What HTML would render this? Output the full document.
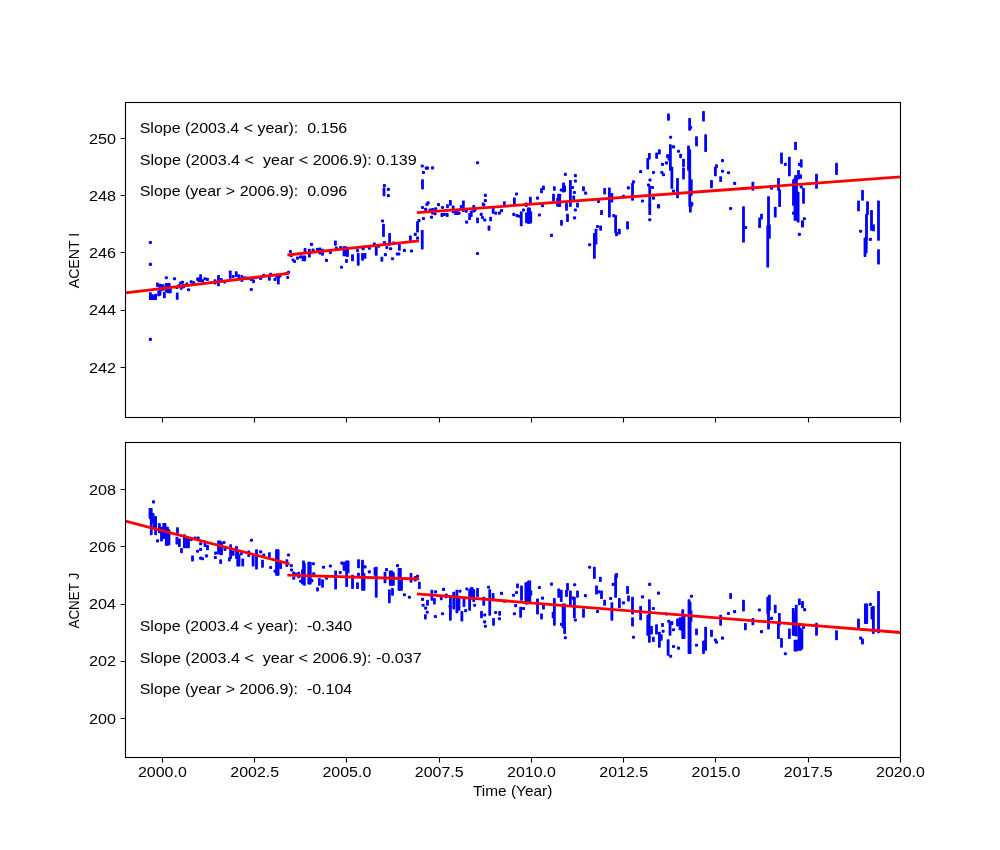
<!DOCTYPE html><html><head><meta charset="utf-8"><style>html,body{margin:0;padding:0;background:#fff}body{width:1000px;height:850px;position:relative;overflow:hidden}</style></head><body><svg width="1000" height="850" viewBox="0 0 1000 850" style="position:absolute;left:0;top:0;will-change:transform"><rect width="1000" height="850" fill="#fff"/><g fill="#0000ff"><rect x="148.83" y="240.95" width="3.1" height="3.1" rx="1"/><rect x="148.83" y="262.83" width="3.1" height="3.1" rx="1"/><rect x="164.83" y="276.20" width="3.1" height="3.1" rx="1"/><rect x="172.95" y="277.20" width="3.1" height="3.1" rx="1"/><rect x="148.98" y="292.13" width="2.8" height="7.99" rx="0.7"/><rect x="151.10" y="294.25" width="2.8" height="5.87" rx="0.7"/><rect x="154.22" y="293.63" width="2.8" height="6.49" rx="0.7"/><rect x="152.60" y="295.50" width="2.8" height="4.62" rx="0.7"/><rect x="157.35" y="290.50" width="2.8" height="5.87" rx="0.7"/><rect x="158.60" y="291.13" width="2.8" height="4.62" rx="0.7"/><rect x="156.10" y="282.38" width="2.8" height="4.62" rx="0.7"/><rect x="158.60" y="283.63" width="2.8" height="8.37" rx="0.7"/><rect x="160.10" y="284.25" width="2.8" height="6.50" rx="0.7"/><rect x="161.72" y="284.25" width="2.8" height="6.50" rx="0.7"/><rect x="162.98" y="291.75" width="2.8" height="6.50" rx="0.7"/><rect x="164.85" y="283.00" width="2.8" height="9.00" rx="0.7"/><rect x="166.35" y="283.00" width="2.8" height="10.25" rx="0.7"/><rect x="167.85" y="283.00" width="2.8" height="10.25" rx="0.7"/><rect x="168.98" y="288.63" width="2.8" height="4.62" rx="0.7"/><rect x="148.83" y="337.85" width="3.1" height="3.1" rx="1"/><rect x="175.85" y="292.38" width="2.8" height="7.49" rx="0.7"/><rect x="175.33" y="285.95" width="3.1" height="3.1" rx="1"/><rect x="179.07" y="281.57" width="3.1" height="3.1" rx="1"/><rect x="180.95" y="280.70" width="3.1" height="3.1" rx="1"/><rect x="197.35" y="277.38" width="2.8" height="4.62" rx="0.7"/><rect x="177.20" y="284.33" width="3.1" height="3.1" rx="1"/><rect x="179.70" y="286.57" width="3.1" height="3.1" rx="1"/><rect x="182.35" y="283.63" width="2.8" height="4.62" rx="0.7"/><rect x="185.48" y="282.38" width="2.8" height="4.62" rx="0.7"/><rect x="186.95" y="288.20" width="3.1" height="3.1" rx="1"/><rect x="189.70" y="280.33" width="3.1" height="3.1" rx="1"/><rect x="192.20" y="281.20" width="3.1" height="3.1" rx="1"/><rect x="196.10" y="277.38" width="2.8" height="3.37" rx="0.7"/><rect x="199.22" y="274.25" width="2.8" height="7.75" rx="0.7"/><rect x="200.95" y="279.33" width="3.1" height="3.1" rx="1"/><rect x="203.45" y="277.20" width="3.1" height="3.1" rx="1"/><rect x="206.10" y="277.83" width="2.8" height="3.10" rx="0.7"/><rect x="213.60" y="279.25" width="2.8" height="5.25" rx="0.7"/><rect x="217.10" y="274.88" width="2.8" height="11.49" rx="0.7"/><rect x="219.85" y="278.00" width="2.8" height="4.00" rx="0.7"/><rect x="223.20" y="280.33" width="3.1" height="3.1" rx="1"/><rect x="228.85" y="270.50" width="2.8" height="8.37" rx="0.7"/><rect x="231.57" y="274.95" width="3.1" height="3.1" rx="1"/><rect x="234.85" y="271.13" width="2.8" height="5.87" rx="0.7"/><rect x="237.35" y="274.25" width="2.8" height="4.00" rx="0.7"/><rect x="240.48" y="274.88" width="2.8" height="7.12" rx="0.7"/><rect x="243.45" y="276.20" width="3.1" height="3.1" rx="1"/><rect x="246.20" y="276.83" width="3.1" height="3.1" rx="1"/><rect x="249.70" y="277.83" width="3.1" height="3.1" rx="1"/><rect x="252.10" y="279.25" width="2.8" height="4.00" rx="0.7"/><rect x="254.70" y="275.95" width="3.1" height="3.1" rx="1"/><rect x="259.07" y="276.83" width="3.1" height="3.1" rx="1"/><rect x="262.20" y="273.70" width="3.1" height="3.1" rx="1"/><rect x="249.70" y="287.95" width="3.1" height="3.1" rx="1"/><rect x="267.98" y="276.75" width="2.8" height="4.00" rx="0.7"/><rect x="273.45" y="277.83" width="3.1" height="3.1" rx="1"/><rect x="276.98" y="276.13" width="2.8" height="8.37" rx="0.7"/><rect x="275.33" y="274.95" width="3.1" height="3.1" rx="1"/><rect x="278.45" y="274.45" width="3.1" height="3.1" rx="1"/><rect x="286.20" y="275.95" width="3.1" height="3.1" rx="1"/><rect x="286.95" y="270.70" width="3.1" height="3.1" rx="1"/><rect x="284.07" y="272.20" width="3.1" height="3.1" rx="1"/><rect x="269.07" y="272.70" width="3.1" height="3.1" rx="1"/><rect x="288.83" y="249.95" width="3.1" height="3.1" rx="1"/><rect x="289.70" y="254.07" width="3.1" height="3.1" rx="1"/><rect x="291.57" y="258.45" width="3.1" height="3.1" rx="1"/><rect x="293.07" y="259.95" width="3.1" height="3.1" rx="1"/><rect x="295.95" y="256.57" width="3.1" height="3.1" rx="1"/><rect x="299.07" y="255.33" width="3.1" height="3.1" rx="1"/><rect x="301.72" y="255.50" width="2.8" height="5.87" rx="0.7"/><rect x="303.35" y="255.50" width="2.8" height="5.87" rx="0.7"/><rect x="303.60" y="248.00" width="2.8" height="5.25" rx="0.7"/><rect x="307.98" y="248.63" width="2.8" height="8.99" rx="0.7"/><rect x="309.95" y="242.83" width="3.1" height="3.1" rx="1"/><rect x="311.57" y="248.45" width="3.1" height="3.1" rx="1"/><rect x="315.95" y="247.83" width="3.1" height="3.1" rx="1"/><rect x="318.60" y="247.38" width="2.8" height="7.12" rx="0.7"/><rect x="321.10" y="248.63" width="2.8" height="7.12" rx="0.7"/><rect x="324.95" y="258.83" width="3.1" height="3.1" rx="1"/><rect x="328.83" y="250.95" width="3.1" height="3.1" rx="1"/><rect x="333.98" y="240.50" width="2.8" height="5.25" rx="0.7"/><rect x="334.70" y="246.57" width="3.1" height="3.1" rx="1"/><rect x="339.07" y="245.95" width="3.1" height="3.1" rx="1"/><rect x="342.60" y="246.13" width="2.8" height="10.24" rx="0.7"/><rect x="344.48" y="246.13" width="2.8" height="10.24" rx="0.7"/><rect x="346.10" y="249.25" width="2.8" height="7.75" rx="0.7"/><rect x="345.10" y="259.00" width="2.8" height="4.00" rx="0.7"/><rect x="339.95" y="265.70" width="3.1" height="3.1" rx="1"/><rect x="351.10" y="254.25" width="2.8" height="7.12" rx="0.7"/><rect x="356.10" y="249.07" width="2.8" height="3.10" rx="0.7"/><rect x="356.85" y="253.00" width="2.8" height="12.75" rx="0.7"/><rect x="361.10" y="253.00" width="2.8" height="7.75" rx="0.7"/><rect x="363.60" y="253.00" width="2.8" height="5.87" rx="0.7"/><rect x="361.57" y="247.20" width="3.1" height="3.1" rx="1"/><rect x="367.83" y="246.57" width="3.1" height="3.1" rx="1"/><rect x="372.83" y="242.45" width="3.1" height="3.1" rx="1"/><rect x="374.85" y="246.75" width="2.8" height="9.00" rx="0.7"/><rect x="377.20" y="244.70" width="3.1" height="3.1" rx="1"/><rect x="380.95" y="219.45" width="3.1" height="3.1" rx="1"/><rect x="382.10" y="223.63" width="2.8" height="13.37" rx="0.7"/><rect x="382.83" y="184.07" width="3.1" height="3.1" rx="1"/><rect x="382.60" y="187.38" width="2.8" height="8.99" rx="0.7"/><rect x="386.83" y="187.83" width="3.1" height="3.1" rx="1"/><rect x="386.83" y="194.07" width="3.1" height="3.1" rx="1"/><rect x="388.22" y="233.00" width="2.8" height="12.75" rx="0.7"/><rect x="382.83" y="240.95" width="3.1" height="3.1" rx="1"/><rect x="385.33" y="245.95" width="3.1" height="3.1" rx="1"/><rect x="389.07" y="247.20" width="3.1" height="3.1" rx="1"/><rect x="392.20" y="241.57" width="3.1" height="3.1" rx="1"/><rect x="397.98" y="243.63" width="2.8" height="7.12" rx="0.7"/><rect x="395.70" y="252.45" width="3.1" height="3.1" rx="1"/><rect x="397.20" y="252.45" width="3.1" height="3.1" rx="1"/><rect x="402.83" y="248.83" width="3.1" height="3.1" rx="1"/><rect x="409.95" y="249.45" width="3.1" height="3.1" rx="1"/><rect x="408.98" y="235.50" width="2.8" height="6.50" rx="0.7"/><rect x="413.70" y="232.83" width="3.1" height="3.1" rx="1"/><rect x="415.95" y="236.57" width="3.1" height="3.1" rx="1"/><rect x="416.10" y="221.13" width="2.8" height="11.49" rx="0.7"/><rect x="417.45" y="219.07" width="3.1" height="3.1" rx="1"/><rect x="380.48" y="256.75" width="2.8" height="5.00" rx="0.7"/><rect x="383.83" y="253.07" width="3.1" height="3.1" rx="1"/><rect x="390.95" y="257.20" width="3.1" height="3.1" rx="1"/><rect x="420.85" y="229.88" width="2.8" height="19.62" rx="0.7"/><rect x="421.95" y="216.95" width="3.1" height="3.1" rx="1"/><rect x="429.95" y="215.70" width="3.1" height="3.1" rx="1"/><rect x="420.70" y="164.45" width="3.1" height="3.1" rx="1"/><rect x="424.70" y="166.57" width="3.1" height="3.1" rx="1"/><rect x="425.95" y="166.57" width="3.1" height="3.1" rx="1"/><rect x="430.95" y="166.33" width="3.1" height="3.1" rx="1"/><rect x="421.95" y="170.95" width="3.1" height="3.1" rx="1"/><rect x="421.10" y="179.25" width="2.8" height="10.25" rx="0.7"/><rect x="420.95" y="205.95" width="3.1" height="3.1" rx="1"/><rect x="424.07" y="207.83" width="3.1" height="3.1" rx="1"/><rect x="426.57" y="201.33" width="3.1" height="3.1" rx="1"/><rect x="425.33" y="202.83" width="3.1" height="3.1" rx="1"/><rect x="428.45" y="208.45" width="3.1" height="3.1" rx="1"/><rect x="431.10" y="208.00" width="2.8" height="6.50" rx="0.7"/><rect x="433.45" y="212.20" width="3.1" height="3.1" rx="1"/><rect x="434.07" y="207.20" width="3.1" height="3.1" rx="1"/><rect x="436.95" y="203.07" width="3.1" height="3.1" rx="1"/><rect x="440.95" y="205.95" width="3.1" height="3.1" rx="1"/><rect x="440.48" y="213.00" width="2.8" height="4.00" rx="0.7"/><rect x="442.83" y="212.83" width="3.1" height="3.1" rx="1"/><rect x="446.10" y="204.25" width="2.8" height="4.00" rx="0.7"/><rect x="445.85" y="213.00" width="2.8" height="4.00" rx="0.7"/><rect x="448.98" y="199.88" width="2.8" height="5.87" rx="0.7"/><rect x="451.72" y="205.50" width="2.8" height="7.75" rx="0.7"/><rect x="454.22" y="209.25" width="2.8" height="5.87" rx="0.7"/><rect x="456.10" y="211.13" width="2.8" height="3.99" rx="0.7"/><rect x="457.45" y="211.57" width="3.1" height="3.1" rx="1"/><rect x="459.85" y="204.88" width="2.8" height="5.87" rx="0.7"/><rect x="461.98" y="200.50" width="2.8" height="11.50" rx="0.7"/><rect x="464.70" y="209.70" width="3.1" height="3.1" rx="1"/><rect x="465.07" y="220.57" width="3.1" height="3.1" rx="1"/><rect x="468.22" y="213.00" width="2.8" height="7.12" rx="0.7"/><rect x="469.85" y="210.50" width="2.8" height="6.50" rx="0.7"/><rect x="472.35" y="204.88" width="2.8" height="7.74" rx="0.7"/><rect x="473.45" y="208.45" width="3.1" height="3.1" rx="1"/><rect x="476.10" y="217.38" width="2.8" height="5.87" rx="0.7"/><rect x="479.70" y="212.83" width="3.1" height="3.1" rx="1"/><rect x="481.72" y="202.38" width="2.8" height="3.37" rx="0.7"/><rect x="483.20" y="218.45" width="3.1" height="3.1" rx="1"/><rect x="483.83" y="193.83" width="3.1" height="3.1" rx="1"/><rect x="483.83" y="199.07" width="3.1" height="3.1" rx="1"/><rect x="482.20" y="203.45" width="3.1" height="3.1" rx="1"/><rect x="487.60" y="225.50" width="2.8" height="5.25" rx="0.7"/><rect x="489.22" y="216.75" width="2.8" height="4.62" rx="0.7"/><rect x="491.72" y="206.75" width="2.8" height="7.12" rx="0.7"/><rect x="494.07" y="211.57" width="3.1" height="3.1" rx="1"/><rect x="497.83" y="211.57" width="3.1" height="3.1" rx="1"/><rect x="480.95" y="215.95" width="3.1" height="3.1" rx="1"/><rect x="475.95" y="161.20" width="3.1" height="3.1" rx="1"/><rect x="475.95" y="251.95" width="3.1" height="3.1" rx="1"/><rect x="499.95" y="209.07" width="3.1" height="3.1" rx="1"/><rect x="502.98" y="201.13" width="2.8" height="3.99" rx="0.7"/><rect x="512.98" y="197.38" width="2.8" height="7.12" rx="0.7"/><rect x="514.95" y="192.45" width="3.1" height="3.1" rx="1"/><rect x="512.20" y="212.83" width="3.1" height="3.1" rx="1"/><rect x="515.48" y="214.07" width="2.8" height="3.10" rx="0.7"/><rect x="517.83" y="214.70" width="3.1" height="3.1" rx="1"/><rect x="519.85" y="211.13" width="2.8" height="15.24" rx="0.7"/><rect x="521.95" y="208.45" width="3.1" height="3.1" rx="1"/><rect x="524.85" y="202.38" width="2.8" height="4.62" rx="0.7"/><rect x="525.10" y="212.38" width="2.8" height="10.87" rx="0.7"/><rect x="526.85" y="207.38" width="2.8" height="16.49" rx="0.7"/><rect x="528.10" y="207.38" width="2.8" height="16.49" rx="0.7"/><rect x="528.98" y="196.75" width="2.8" height="6.50" rx="0.7"/><rect x="529.35" y="211.13" width="2.8" height="12.12" rx="0.7"/><rect x="535.95" y="196.57" width="3.1" height="3.1" rx="1"/><rect x="537.83" y="213.45" width="3.1" height="3.1" rx="1"/><rect x="540.10" y="188.00" width="2.8" height="5.25" rx="0.7"/><rect x="542.10" y="185.50" width="2.8" height="4.62" rx="0.7"/><rect x="540.95" y="204.07" width="3.1" height="3.1" rx="1"/><rect x="549.95" y="233.83" width="3.1" height="3.1" rx="1"/><rect x="552.10" y="193.63" width="2.8" height="7.74" rx="0.7"/><rect x="552.98" y="186.13" width="2.8" height="4.62" rx="0.7"/><rect x="557.10" y="193.63" width="2.8" height="13.37" rx="0.7"/><rect x="558.35" y="193.63" width="2.8" height="13.37" rx="0.7"/><rect x="556.10" y="198.00" width="2.8" height="8.37" rx="0.7"/><rect x="560.10" y="219.88" width="2.8" height="5.87" rx="0.7"/><rect x="559.70" y="188.45" width="3.1" height="3.1" rx="1"/><rect x="562.10" y="182.38" width="2.8" height="10.24" rx="0.7"/><rect x="563.22" y="185.50" width="2.8" height="6.50" rx="0.7"/><rect x="563.83" y="172.83" width="3.1" height="3.1" rx="1"/><rect x="565.10" y="203.00" width="2.8" height="7.75" rx="0.7"/><rect x="566.10" y="213.63" width="2.8" height="8.37" rx="0.7"/><rect x="568.98" y="179.88" width="2.8" height="27.12" rx="0.7"/><rect x="570.95" y="185.95" width="3.1" height="3.1" rx="1"/><rect x="572.35" y="195.50" width="2.8" height="5.25" rx="0.7"/><rect x="572.83" y="190.95" width="3.1" height="3.1" rx="1"/><rect x="573.83" y="174.07" width="3.1" height="3.1" rx="1"/><rect x="573.83" y="179.45" width="3.1" height="3.1" rx="1"/><rect x="573.83" y="208.45" width="3.1" height="3.1" rx="1"/><rect x="572.95" y="216.33" width="3.1" height="3.1" rx="1"/><rect x="576.10" y="202.38" width="2.8" height="5.24" rx="0.7"/><rect x="582.10" y="186.13" width="2.8" height="5.24" rx="0.7"/><rect x="584.07" y="191.57" width="3.1" height="3.1" rx="1"/><rect x="588.07" y="243.20" width="3.1" height="3.1" rx="1"/><rect x="592.98" y="233.00" width="2.8" height="25.87" rx="0.7"/><rect x="594.60" y="228.63" width="2.8" height="15.87" rx="0.7"/><rect x="595.95" y="224.95" width="3.1" height="3.1" rx="1"/><rect x="599.22" y="225.50" width="2.8" height="5.25" rx="0.7"/><rect x="596.95" y="199.95" width="3.1" height="3.1" rx="1"/><rect x="600.10" y="209.88" width="2.8" height="5.24" rx="0.7"/><rect x="603.22" y="188.00" width="2.8" height="6.50" rx="0.7"/><rect x="607.98" y="187.38" width="2.8" height="30.24" rx="0.7"/><rect x="610.48" y="193.00" width="2.8" height="9.62" rx="0.7"/><rect x="612.20" y="214.07" width="3.1" height="3.1" rx="1"/><rect x="614.22" y="214.88" width="2.8" height="18.37" rx="0.7"/><rect x="615.10" y="231.75" width="2.8" height="4.62" rx="0.7"/><rect x="617.98" y="228.63" width="2.8" height="5.87" rx="0.7"/><rect x="667.10" y="113.62" width="2.8" height="7.13" rx="0.7"/><rect x="702.10" y="111.12" width="2.8" height="10.26" rx="0.7"/><rect x="688.22" y="118.00" width="2.8" height="12.75" rx="0.7"/><rect x="689.07" y="125.95" width="3.1" height="3.1" rx="1"/><rect x="669.07" y="135.70" width="3.1" height="3.1" rx="1"/><rect x="695.10" y="136.13" width="2.8" height="10.24" rx="0.7"/><rect x="704.22" y="134.25" width="2.8" height="17.75" rx="0.7"/><rect x="668.98" y="144.25" width="2.8" height="26.50" rx="0.7"/><rect x="670.48" y="166.75" width="2.8" height="22.12" rx="0.7"/><rect x="671.95" y="145.33" width="3.1" height="3.1" rx="1"/><rect x="676.95" y="149.70" width="3.1" height="3.1" rx="1"/><rect x="679.22" y="153.63" width="2.8" height="4.62" rx="0.7"/><rect x="682.10" y="158.63" width="2.8" height="8.37" rx="0.7"/><rect x="682.10" y="167.38" width="2.8" height="12.12" rx="0.7"/><rect x="687.10" y="145.50" width="2.8" height="25.25" rx="0.7"/><rect x="688.35" y="149.25" width="2.8" height="57.50" rx="0.7"/><rect x="689.85" y="179.25" width="2.8" height="16.50" rx="0.7"/><rect x="690.10" y="201.75" width="2.8" height="5.00" rx="0.7"/><rect x="666.10" y="154.25" width="2.8" height="4.00" rx="0.7"/><rect x="667.72" y="154.25" width="2.8" height="6.50" rx="0.7"/><rect x="657.98" y="149.25" width="2.8" height="5.25" rx="0.7"/><rect x="655.22" y="152.38" width="2.8" height="6.49" rx="0.7"/><rect x="647.98" y="153.00" width="2.8" height="6.50" rx="0.7"/><rect x="646.35" y="158.00" width="2.8" height="11.50" rx="0.7"/><rect x="660.95" y="162.83" width="3.1" height="3.1" rx="1"/><rect x="664.95" y="161.33" width="3.1" height="3.1" rx="1"/><rect x="660.33" y="170.95" width="3.1" height="3.1" rx="1"/><rect x="661.95" y="173.20" width="3.1" height="3.1" rx="1"/><rect x="651.95" y="170.95" width="3.1" height="3.1" rx="1"/><rect x="639.07" y="170.07" width="3.1" height="3.1" rx="1"/><rect x="648.45" y="178.45" width="3.1" height="3.1" rx="1"/><rect x="646.95" y="183.45" width="3.1" height="3.1" rx="1"/><rect x="648.35" y="185.50" width="2.8" height="21.25" rx="0.7"/><rect x="650.95" y="185.95" width="3.1" height="3.1" rx="1"/><rect x="651.95" y="196.57" width="3.1" height="3.1" rx="1"/><rect x="640.95" y="199.45" width="3.1" height="3.1" rx="1"/><rect x="656.95" y="204.07" width="3.1" height="3.1" rx="1"/><rect x="631.95" y="180.33" width="3.1" height="3.1" rx="1"/><rect x="631.10" y="183.00" width="2.8" height="17.75" rx="0.7"/><rect x="626.83" y="186.33" width="3.1" height="3.1" rx="1"/><rect x="621.95" y="194.70" width="3.1" height="3.1" rx="1"/><rect x="671.95" y="189.45" width="3.1" height="3.1" rx="1"/><rect x="676.10" y="178.00" width="2.8" height="20.25" rx="0.7"/><rect x="710.10" y="179.88" width="2.8" height="8.37" rx="0.7"/><rect x="715.10" y="164.25" width="2.8" height="4.00" rx="0.7"/><rect x="713.98" y="166.75" width="2.8" height="9.62" rx="0.7"/><rect x="719.22" y="176.13" width="2.8" height="5.87" rx="0.7"/><rect x="720.95" y="159.07" width="3.1" height="3.1" rx="1"/><rect x="720.95" y="169.70" width="3.1" height="3.1" rx="1"/><rect x="726.95" y="171.20" width="3.1" height="3.1" rx="1"/><rect x="733.07" y="181.83" width="3.1" height="3.1" rx="1"/><rect x="648.35" y="204.25" width="2.8" height="10.87" rx="0.7"/><rect x="648.20" y="218.20" width="3.1" height="3.1" rx="1"/><rect x="656.95" y="205.33" width="3.1" height="3.1" rx="1"/><rect x="688.98" y="204.25" width="2.8" height="8.37" rx="0.7"/><rect x="690.33" y="202.45" width="3.1" height="3.1" rx="1"/><rect x="729.07" y="206.95" width="3.1" height="3.1" rx="1"/><rect x="626.10" y="221.13" width="2.8" height="8.37" rx="0.7"/><rect x="751.48" y="181.75" width="2.8" height="9.00" rx="0.7"/><rect x="742.10" y="206.13" width="2.8" height="20.62" rx="0.7"/><rect x="769.95" y="186.57" width="3.1" height="3.1" rx="1"/><rect x="758.22" y="217.38" width="2.8" height="9.37" rx="0.7"/><rect x="760.10" y="213.63" width="2.8" height="5.87" rx="0.7"/><rect x="767.10" y="196.13" width="2.8" height="30.62" rx="0.7"/><rect x="773.85" y="206.75" width="2.8" height="10.87" rx="0.7"/><rect x="777.10" y="178.00" width="2.8" height="12.75" rx="0.7"/><rect x="778.22" y="189.25" width="2.8" height="17.75" rx="0.7"/><rect x="780.10" y="152.38" width="2.8" height="11.49" rx="0.7"/><rect x="783.83" y="162.83" width="3.1" height="3.1" rx="1"/><rect x="787.98" y="156.75" width="2.8" height="19.62" rx="0.7"/><rect x="794.10" y="141.75" width="2.8" height="8.37" rx="0.7"/><rect x="799.85" y="159.25" width="2.8" height="8.37" rx="0.7"/><rect x="797.83" y="162.83" width="3.1" height="3.1" rx="1"/><rect x="797.10" y="169.88" width="2.8" height="9.62" rx="0.7"/><rect x="799.22" y="174.25" width="2.8" height="4.62" rx="0.7"/><rect x="794.22" y="174.88" width="2.8" height="4.62" rx="0.7"/><rect x="792.10" y="179.25" width="2.8" height="26.50" rx="0.7"/><rect x="793.60" y="178.00" width="2.8" height="42.75" rx="0.7"/><rect x="795.10" y="178.00" width="2.8" height="42.75" rx="0.7"/><rect x="796.72" y="191.75" width="2.8" height="30.87" rx="0.7"/><rect x="791.95" y="211.57" width="3.1" height="3.1" rx="1"/><rect x="802.10" y="188.00" width="2.8" height="15.87" rx="0.7"/><rect x="799.70" y="185.33" width="3.1" height="3.1" rx="1"/><rect x="802.83" y="217.20" width="3.1" height="3.1" rx="1"/><rect x="801.10" y="220.50" width="2.8" height="6.25" rx="0.7"/><rect x="815.10" y="173.63" width="2.8" height="15.24" rx="0.7"/><rect x="835.10" y="162.75" width="2.8" height="12.37" rx="0.7"/><rect x="857.10" y="200.50" width="2.8" height="10.87" rx="0.7"/><rect x="742.10" y="225.25" width="2.8" height="17.37" rx="0.7"/><rect x="744.07" y="225.95" width="3.1" height="3.1" rx="1"/><rect x="758.22" y="224.89" width="2.8" height="3.10" rx="0.7"/><rect x="766.35" y="225.25" width="2.8" height="42.37" rx="0.7"/><rect x="767.98" y="224.25" width="2.8" height="14.62" rx="0.7"/><rect x="801.10" y="220.50" width="2.8" height="7.12" rx="0.7"/><rect x="797.83" y="232.83" width="3.1" height="3.1" rx="1"/><rect x="861.10" y="189.88" width="2.8" height="10.87" rx="0.7"/><rect x="866.10" y="201.13" width="2.8" height="13.99" rx="0.7"/><rect x="865.10" y="213.63" width="2.8" height="27.12" rx="0.7"/><rect x="863.60" y="237.38" width="2.8" height="19.62" rx="0.7"/><rect x="864.85" y="237.38" width="2.8" height="15.87" rx="0.7"/><rect x="870.10" y="209.88" width="2.8" height="20.87" rx="0.7"/><rect x="872.10" y="224.25" width="2.8" height="7.12" rx="0.7"/><rect x="877.10" y="200.50" width="2.8" height="40.25" rx="0.7"/><rect x="859.07" y="229.70" width="3.1" height="3.1" rx="1"/><rect x="868.83" y="237.83" width="3.1" height="3.1" rx="1"/><rect x="877.10" y="249.25" width="2.8" height="4.62" rx="0.7"/><rect x="877.10" y="253.00" width="2.8" height="11.50" rx="0.7"/></g><g fill="#0000ff"><rect x="151.95" y="500.33" width="3.1" height="3.1" rx="1"/><rect x="148.60" y="508.00" width="2.8" height="10.88" rx="0.7"/><rect x="149.85" y="508.00" width="2.8" height="27.13" rx="0.7"/><rect x="151.72" y="513.00" width="2.8" height="10.25" rx="0.7"/><rect x="154.22" y="516.12" width="2.8" height="19.01" rx="0.7"/><rect x="152.98" y="518.00" width="2.8" height="10.25" rx="0.7"/><rect x="155.95" y="539.33" width="3.1" height="3.1" rx="1"/><rect x="157.98" y="523.00" width="2.8" height="10.25" rx="0.7"/><rect x="160.10" y="526.75" width="2.8" height="14.63" rx="0.7"/><rect x="162.35" y="523.00" width="2.8" height="15.88" rx="0.7"/><rect x="163.60" y="523.00" width="2.8" height="15.88" rx="0.7"/><rect x="164.85" y="526.75" width="2.8" height="19.00" rx="0.7"/><rect x="166.10" y="526.75" width="2.8" height="19.00" rx="0.7"/><rect x="167.60" y="529.25" width="2.8" height="15.88" rx="0.7"/><rect x="176.10" y="527.37" width="2.8" height="6.51" rx="0.7"/><rect x="175.48" y="536.75" width="2.8" height="7.75" rx="0.7"/><rect x="177.98" y="538.62" width="2.8" height="8.38" rx="0.7"/><rect x="180.10" y="548.00" width="2.8" height="5.25" rx="0.7"/><rect x="182.98" y="534.25" width="2.8" height="14.00" rx="0.7"/><rect x="185.48" y="538.00" width="2.8" height="10.25" rx="0.7"/><rect x="187.10" y="538.00" width="2.8" height="10.25" rx="0.7"/><rect x="189.70" y="537.83" width="3.1" height="3.1" rx="1"/><rect x="191.10" y="555.50" width="2.8" height="5.88" rx="0.7"/><rect x="193.45" y="536.57" width="3.1" height="3.1" rx="1"/><rect x="196.57" y="536.57" width="3.1" height="3.1" rx="1"/><rect x="195.95" y="549.70" width="3.1" height="3.1" rx="1"/><rect x="199.07" y="542.20" width="3.1" height="3.1" rx="1"/><rect x="199.07" y="547.83" width="3.1" height="3.1" rx="1"/><rect x="199.07" y="556.57" width="3.1" height="3.1" rx="1"/><rect x="200.95" y="557.20" width="3.1" height="3.1" rx="1"/><rect x="203.60" y="540.50" width="2.8" height="6.50" rx="0.7"/><rect x="206.10" y="544.87" width="2.8" height="5.26" rx="0.7"/><rect x="204.95" y="554.33" width="3.1" height="3.1" rx="1"/><rect x="214.07" y="551.57" width="3.1" height="3.1" rx="1"/><rect x="213.83" y="555.95" width="3.1" height="3.1" rx="1"/><rect x="217.10" y="540.50" width="2.8" height="14.00" rx="0.7"/><rect x="218.60" y="540.50" width="2.8" height="14.00" rx="0.7"/><rect x="220.10" y="541.75" width="2.8" height="13.38" rx="0.7"/><rect x="219.22" y="559.25" width="2.8" height="4.63" rx="0.7"/><rect x="222.45" y="540.95" width="3.1" height="3.1" rx="1"/><rect x="223.45" y="547.83" width="3.1" height="3.1" rx="1"/><rect x="229.22" y="544.25" width="2.8" height="14.63" rx="0.7"/><rect x="227.98" y="557.37" width="2.8" height="4.01" rx="0.7"/><rect x="231.72" y="550.50" width="2.8" height="5.25" rx="0.7"/><rect x="235.10" y="546.12" width="2.8" height="12.76" rx="0.7"/><rect x="236.35" y="550.50" width="2.8" height="15.88" rx="0.7"/><rect x="237.60" y="554.25" width="2.8" height="12.13" rx="0.7"/><rect x="239.70" y="552.20" width="3.1" height="3.1" rx="1"/><rect x="241.35" y="558.62" width="2.8" height="7.76" rx="0.7"/><rect x="247.35" y="550.50" width="2.8" height="6.50" rx="0.7"/><rect x="249.95" y="538.70" width="3.1" height="3.1" rx="1"/><rect x="251.72" y="554.25" width="2.8" height="12.13" rx="0.7"/><rect x="255.10" y="549.25" width="2.8" height="20.25" rx="0.7"/><rect x="259.07" y="550.33" width="3.1" height="3.1" rx="1"/><rect x="261.10" y="559.87" width="2.8" height="7.76" rx="0.7"/><rect x="262.20" y="553.45" width="3.1" height="3.1" rx="1"/><rect x="267.98" y="552.37" width="2.8" height="5.26" rx="0.7"/><rect x="269.07" y="565.95" width="3.1" height="3.1" rx="1"/><rect x="275.10" y="549.25" width="2.8" height="26.50" rx="0.7"/><rect x="276.72" y="549.25" width="2.8" height="26.50" rx="0.7"/><rect x="273.45" y="569.70" width="3.1" height="3.1" rx="1"/><rect x="279.22" y="561.75" width="2.8" height="7.13" rx="0.7"/><rect x="285.48" y="559.25" width="2.8" height="7.75" rx="0.7"/><rect x="286.95" y="553.45" width="3.1" height="3.1" rx="1"/><rect x="289.70" y="564.07" width="3.1" height="3.1" rx="1"/><rect x="289.95" y="568.45" width="3.1" height="3.1" rx="1"/><rect x="292.20" y="571.57" width="3.1" height="3.1" rx="1"/><rect x="292.20" y="576.57" width="3.1" height="3.1" rx="1"/><rect x="294.70" y="572.83" width="3.1" height="3.1" rx="1"/><rect x="297.35" y="571.75" width="2.8" height="6.50" rx="0.7"/><rect x="299.07" y="579.70" width="3.1" height="3.1" rx="1"/><rect x="302.10" y="560.50" width="2.8" height="10.25" rx="0.7"/><rect x="302.98" y="563.00" width="2.8" height="22.75" rx="0.7"/><rect x="301.10" y="569.25" width="2.8" height="15.25" rx="0.7"/><rect x="307.35" y="561.75" width="2.8" height="22.75" rx="0.7"/><rect x="308.85" y="561.75" width="2.8" height="22.75" rx="0.7"/><rect x="311.83" y="562.20" width="3.1" height="3.1" rx="1"/><rect x="310.33" y="579.07" width="3.1" height="3.1" rx="1"/><rect x="312.20" y="572.20" width="3.1" height="3.1" rx="1"/><rect x="316.10" y="587.37" width="2.8" height="4.01" rx="0.7"/><rect x="317.98" y="578.00" width="2.8" height="7.75" rx="0.7"/><rect x="321.10" y="579.25" width="2.8" height="8.38" rx="0.7"/><rect x="321.95" y="565.70" width="3.1" height="3.1" rx="1"/><rect x="324.95" y="576.57" width="3.1" height="3.1" rx="1"/><rect x="328.83" y="564.45" width="3.1" height="3.1" rx="1"/><rect x="334.22" y="570.50" width="2.8" height="19.00" rx="0.7"/><rect x="338.70" y="570.95" width="3.1" height="3.1" rx="1"/><rect x="340.33" y="561.57" width="3.1" height="3.1" rx="1"/><rect x="342.60" y="561.75" width="2.8" height="9.00" rx="0.7"/><rect x="343.85" y="561.75" width="2.8" height="9.00" rx="0.7"/><rect x="345.22" y="560.50" width="2.8" height="26.50" rx="0.7"/><rect x="346.72" y="560.50" width="2.8" height="12.75" rx="0.7"/><rect x="351.10" y="574.87" width="2.8" height="14.01" rx="0.7"/><rect x="356.10" y="582.37" width="2.8" height="6.51" rx="0.7"/><rect x="357.10" y="559.25" width="2.8" height="9.00" rx="0.7"/><rect x="356.95" y="572.83" width="3.1" height="3.1" rx="1"/><rect x="361.10" y="559.87" width="2.8" height="14.63" rx="0.7"/><rect x="361.10" y="573.00" width="2.8" height="17.75" rx="0.7"/><rect x="362.60" y="573.00" width="2.8" height="17.75" rx="0.7"/><rect x="363.45" y="565.33" width="3.1" height="3.1" rx="1"/><rect x="367.83" y="570.33" width="3.1" height="3.1" rx="1"/><rect x="373.60" y="567.37" width="2.8" height="8.38" rx="0.7"/><rect x="374.85" y="566.75" width="2.8" height="30.88" rx="0.7"/><rect x="383.60" y="571.75" width="2.8" height="11.50" rx="0.7"/><rect x="384.95" y="568.07" width="3.1" height="3.1" rx="1"/><rect x="387.98" y="589.25" width="2.8" height="14.00" rx="0.7"/><rect x="388.85" y="570.50" width="2.8" height="15.25" rx="0.7"/><rect x="390.35" y="570.50" width="2.8" height="15.25" rx="0.7"/><rect x="391.98" y="572.37" width="2.8" height="13.38" rx="0.7"/><rect x="391.10" y="588.00" width="2.8" height="7.75" rx="0.7"/><rect x="395.95" y="564.07" width="3.1" height="3.1" rx="1"/><rect x="397.60" y="568.00" width="2.8" height="22.75" rx="0.7"/><rect x="398.98" y="568.00" width="2.8" height="22.75" rx="0.7"/><rect x="400.10" y="579.25" width="2.8" height="11.50" rx="0.7"/><rect x="402.83" y="593.20" width="3.1" height="3.1" rx="1"/><rect x="407.83" y="595.70" width="3.1" height="3.1" rx="1"/><rect x="409.60" y="573.00" width="2.8" height="9.63" rx="0.7"/><rect x="413.85" y="576.12" width="2.8" height="5.26" rx="0.7"/><rect x="415.95" y="574.70" width="3.1" height="3.1" rx="1"/><rect x="417.98" y="581.75" width="2.8" height="7.13" rx="0.7"/><rect x="420.95" y="597.83" width="3.1" height="3.1" rx="1"/><rect x="421.57" y="603.70" width="3.1" height="3.1" rx="1"/><rect x="424.07" y="606.57" width="3.1" height="3.1" rx="1"/><rect x="426.10" y="599.87" width="2.8" height="5.88" rx="0.7"/><rect x="425.70" y="610.70" width="3.1" height="3.1" rx="1"/><rect x="423.98" y="614.25" width="2.8" height="5.25" rx="0.7"/><rect x="430.48" y="589.87" width="2.8" height="10.88" rx="0.7"/><rect x="432.98" y="598.00" width="2.8" height="6.50" rx="0.7"/><rect x="434.07" y="590.33" width="3.1" height="3.1" rx="1"/><rect x="433.83" y="614.95" width="3.1" height="3.1" rx="1"/><rect x="439.85" y="596.12" width="2.8" height="4.01" rx="0.7"/><rect x="440.95" y="612.20" width="3.1" height="3.1" rx="1"/><rect x="441.95" y="587.83" width="3.1" height="3.1" rx="1"/><rect x="444.85" y="593.62" width="2.8" height="4.63" rx="0.7"/><rect x="448.98" y="595.50" width="2.8" height="25.25" rx="0.7"/><rect x="448.45" y="604.70" width="3.1" height="3.1" rx="1"/><rect x="452.35" y="591.75" width="2.8" height="17.75" rx="0.7"/><rect x="455.48" y="589.87" width="2.8" height="23.38" rx="0.7"/><rect x="457.60" y="598.00" width="2.8" height="12.75" rx="0.7"/><rect x="458.45" y="589.70" width="3.1" height="3.1" rx="1"/><rect x="460.48" y="611.12" width="2.8" height="10.26" rx="0.7"/><rect x="462.60" y="596.75" width="2.8" height="10.25" rx="0.7"/><rect x="464.07" y="609.07" width="3.1" height="3.1" rx="1"/><rect x="465.33" y="587.45" width="3.1" height="3.1" rx="1"/><rect x="468.22" y="589.25" width="2.8" height="21.50" rx="0.7"/><rect x="469.60" y="587.37" width="2.8" height="12.13" rx="0.7"/><rect x="470.85" y="587.37" width="2.8" height="12.13" rx="0.7"/><rect x="472.35" y="589.25" width="2.8" height="12.75" rx="0.7"/><rect x="473.07" y="603.70" width="3.1" height="3.1" rx="1"/><rect x="476.10" y="588.00" width="2.8" height="9.00" rx="0.7"/><rect x="480.10" y="611.12" width="2.8" height="7.13" rx="0.7"/><rect x="482.35" y="596.75" width="2.8" height="9.00" rx="0.7"/><rect x="483.20" y="613.45" width="3.1" height="3.1" rx="1"/><rect x="483.07" y="620.33" width="3.1" height="3.1" rx="1"/><rect x="483.83" y="624.70" width="3.1" height="3.1" rx="1"/><rect x="486.95" y="585.70" width="3.1" height="3.1" rx="1"/><rect x="488.35" y="589.25" width="2.8" height="26.50" rx="0.7"/><rect x="491.72" y="593.00" width="2.8" height="7.75" rx="0.7"/><rect x="492.10" y="618.00" width="2.8" height="7.75" rx="0.7"/><rect x="494.07" y="610.95" width="3.1" height="3.1" rx="1"/><rect x="497.83" y="617.20" width="3.1" height="3.1" rx="1"/><rect x="498.22" y="611.12" width="2.8" height="4.63" rx="0.7"/><rect x="499.95" y="591.83" width="3.1" height="3.1" rx="1"/><rect x="502.83" y="599.70" width="3.1" height="3.1" rx="1"/><rect x="512.83" y="612.20" width="3.1" height="3.1" rx="1"/><rect x="514.07" y="604.07" width="3.1" height="3.1" rx="1"/><rect x="514.95" y="590.95" width="3.1" height="3.1" rx="1"/><rect x="511.95" y="593.70" width="3.1" height="3.1" rx="1"/><rect x="516.10" y="583.62" width="2.8" height="4.63" rx="0.7"/><rect x="519.22" y="606.75" width="2.8" height="10.88" rx="0.7"/><rect x="520.10" y="585.50" width="2.8" height="15.25" rx="0.7"/><rect x="521.95" y="606.95" width="3.1" height="3.1" rx="1"/><rect x="524.48" y="582.37" width="2.8" height="22.13" rx="0.7"/><rect x="525.85" y="582.37" width="2.8" height="22.13" rx="0.7"/><rect x="527.10" y="580.50" width="2.8" height="22.75" rx="0.7"/><rect x="528.35" y="580.50" width="2.8" height="22.75" rx="0.7"/><rect x="529.48" y="590.50" width="2.8" height="5.25" rx="0.7"/><rect x="536.10" y="598.62" width="2.8" height="15.88" rx="0.7"/><rect x="537.83" y="585.95" width="3.1" height="3.1" rx="1"/><rect x="540.95" y="596.57" width="3.1" height="3.1" rx="1"/><rect x="542.10" y="604.87" width="2.8" height="4.63" rx="0.7"/><rect x="540.10" y="613.62" width="2.8" height="5.88" rx="0.7"/><rect x="549.95" y="582.57" width="3.1" height="3.1" rx="1"/><rect x="552.98" y="598.00" width="2.8" height="27.75" rx="0.7"/><rect x="551.72" y="611.75" width="2.8" height="6.50" rx="0.7"/><rect x="557.35" y="588.62" width="2.8" height="9.01" rx="0.7"/><rect x="559.85" y="589.87" width="2.8" height="12.13" rx="0.7"/><rect x="559.95" y="622.83" width="3.1" height="3.1" rx="1"/><rect x="561.72" y="603.62" width="2.8" height="24.63" rx="0.7"/><rect x="563.10" y="603.62" width="2.8" height="24.63" rx="0.7"/><rect x="563.22" y="626.75" width="2.8" height="7.13" rx="0.7"/><rect x="563.83" y="636.20" width="3.1" height="3.1" rx="1"/><rect x="566.10" y="583.00" width="2.8" height="7.75" rx="0.7"/><rect x="565.10" y="589.87" width="2.8" height="7.13" rx="0.7"/><rect x="568.98" y="590.50" width="2.8" height="15.25" rx="0.7"/><rect x="571.57" y="596.57" width="3.1" height="3.1" rx="1"/><rect x="572.98" y="596.75" width="2.8" height="21.50" rx="0.7"/><rect x="573.07" y="583.20" width="3.1" height="3.1" rx="1"/><rect x="573.83" y="618.45" width="3.1" height="3.1" rx="1"/><rect x="576.10" y="590.50" width="2.8" height="7.13" rx="0.7"/><rect x="582.10" y="608.62" width="2.8" height="9.01" rx="0.7"/><rect x="583.83" y="594.07" width="3.1" height="3.1" rx="1"/><rect x="588.07" y="565.70" width="3.1" height="3.1" rx="1"/><rect x="592.98" y="566.75" width="2.8" height="12.13" rx="0.7"/><rect x="598.98" y="576.75" width="2.8" height="5.25" rx="0.7"/><rect x="595.10" y="585.50" width="2.8" height="9.00" rx="0.7"/><rect x="597.20" y="590.33" width="3.1" height="3.1" rx="1"/><rect x="600.10" y="590.50" width="2.8" height="8.38" rx="0.7"/><rect x="603.22" y="599.87" width="2.8" height="5.88" rx="0.7"/><rect x="595.95" y="609.95" width="3.1" height="3.1" rx="1"/><rect x="609.07" y="596.95" width="3.1" height="3.1" rx="1"/><rect x="610.48" y="602.37" width="2.8" height="18.38" rx="0.7"/><rect x="611.57" y="582.83" width="3.1" height="3.1" rx="1"/><rect x="614.22" y="574.25" width="2.8" height="23.38" rx="0.7"/><rect x="615.10" y="573.00" width="2.8" height="5.25" rx="0.7"/><rect x="617.98" y="598.00" width="2.8" height="10.25" rx="0.7"/><rect x="621.95" y="601.33" width="3.1" height="3.1" rx="1"/><rect x="626.10" y="586.12" width="2.8" height="7.76" rx="0.7"/><rect x="627.10" y="595.50" width="2.8" height="5.88" rx="0.7"/><rect x="631.10" y="596.75" width="2.8" height="17.75" rx="0.7"/><rect x="631.10" y="617.37" width="2.8" height="9.01" rx="0.7"/><rect x="631.95" y="635.70" width="3.1" height="3.1" rx="1"/><rect x="639.22" y="606.12" width="2.8" height="14.01" rx="0.7"/><rect x="640.95" y="595.33" width="3.1" height="3.1" rx="1"/><rect x="648.07" y="582.83" width="3.1" height="3.1" rx="1"/><rect x="647.98" y="599.25" width="2.8" height="19.63" rx="0.7"/><rect x="646.35" y="614.87" width="2.8" height="20.88" rx="0.7"/><rect x="647.72" y="618.00" width="2.8" height="17.75" rx="0.7"/><rect x="650.10" y="626.12" width="2.8" height="8.38" rx="0.7"/><rect x="647.98" y="635.50" width="2.8" height="7.13" rx="0.7"/><rect x="651.83" y="606.95" width="3.1" height="3.1" rx="1"/><rect x="651.98" y="636.75" width="2.8" height="5.25" rx="0.7"/><rect x="655.10" y="624.25" width="2.8" height="10.25" rx="0.7"/><rect x="656.95" y="591.57" width="3.1" height="3.1" rx="1"/><rect x="657.98" y="631.75" width="2.8" height="15.88" rx="0.7"/><rect x="659.85" y="634.25" width="2.8" height="6.50" rx="0.7"/><rect x="661.10" y="623.00" width="2.8" height="4.00" rx="0.7"/><rect x="661.57" y="629.70" width="3.1" height="3.1" rx="1"/><rect x="664.95" y="612.45" width="3.1" height="3.1" rx="1"/><rect x="666.72" y="639.25" width="2.8" height="16.50" rx="0.7"/><rect x="669.07" y="654.70" width="3.1" height="3.1" rx="1"/><rect x="667.20" y="619.70" width="3.1" height="3.1" rx="1"/><rect x="668.60" y="621.75" width="2.8" height="14.00" rx="0.7"/><rect x="670.48" y="621.12" width="2.8" height="4.01" rx="0.7"/><rect x="671.95" y="628.20" width="3.1" height="3.1" rx="1"/><rect x="671.95" y="644.95" width="3.1" height="3.1" rx="1"/><rect x="676.95" y="646.57" width="3.1" height="3.1" rx="1"/><rect x="676.10" y="618.62" width="2.8" height="7.76" rx="0.7"/><rect x="678.60" y="617.37" width="2.8" height="12.76" rx="0.7"/><rect x="681.35" y="609.25" width="2.8" height="29.63" rx="0.7"/><rect x="682.60" y="614.25" width="2.8" height="24.63" rx="0.7"/><rect x="680.48" y="618.00" width="2.8" height="12.75" rx="0.7"/><rect x="687.60" y="599.25" width="2.8" height="54.63" rx="0.7"/><rect x="688.72" y="601.75" width="2.8" height="52.13" rx="0.7"/><rect x="689.60" y="610.50" width="2.8" height="11.50" rx="0.7"/><rect x="689.95" y="594.70" width="3.1" height="3.1" rx="1"/><rect x="695.10" y="628.62" width="2.8" height="6.51" rx="0.7"/><rect x="694.95" y="643.70" width="3.1" height="3.1" rx="1"/><rect x="702.10" y="640.50" width="2.8" height="13.38" rx="0.7"/><rect x="704.22" y="626.75" width="2.8" height="24.00" rx="0.7"/><rect x="710.10" y="629.87" width="2.8" height="7.13" rx="0.7"/><rect x="713.83" y="638.45" width="3.1" height="3.1" rx="1"/><rect x="714.95" y="640.57" width="3.1" height="3.1" rx="1"/><rect x="719.22" y="614.87" width="2.8" height="10.88" rx="0.7"/><rect x="720.95" y="636.57" width="3.1" height="3.1" rx="1"/><rect x="726.83" y="611.95" width="3.1" height="3.1" rx="1"/><rect x="729.22" y="593.00" width="2.8" height="5.88" rx="0.7"/><rect x="733.07" y="610.07" width="3.1" height="3.1" rx="1"/><rect x="742.10" y="599.87" width="2.8" height="11.51" rx="0.7"/><rect x="743.98" y="623.00" width="2.8" height="7.13" rx="0.7"/><rect x="751.48" y="618.00" width="2.8" height="7.13" rx="0.7"/><rect x="757.83" y="608.45" width="3.1" height="3.1" rx="1"/><rect x="759.95" y="630.07" width="3.1" height="3.1" rx="1"/><rect x="766.35" y="596.75" width="2.8" height="17.75" rx="0.7"/><rect x="767.98" y="594.87" width="2.8" height="15.88" rx="0.7"/><rect x="767.10" y="609.25" width="2.8" height="20.25" rx="0.7"/><rect x="769.95" y="616.83" width="3.1" height="3.1" rx="1"/><rect x="773.85" y="604.87" width="2.8" height="8.38" rx="0.7"/><rect x="777.98" y="613.00" width="2.8" height="12.75" rx="0.7"/><rect x="776.98" y="623.00" width="2.8" height="15.88" rx="0.7"/><rect x="780.10" y="638.00" width="2.8" height="9.63" rx="0.7"/><rect x="783.83" y="652.20" width="3.1" height="3.1" rx="1"/><rect x="787.98" y="628.62" width="2.8" height="10.26" rx="0.7"/><rect x="791.85" y="608.00" width="2.8" height="27.75" rx="0.7"/><rect x="793.35" y="611.75" width="2.8" height="24.00" rx="0.7"/><rect x="794.85" y="604.87" width="2.8" height="31.51" rx="0.7"/><rect x="793.60" y="639.87" width="2.8" height="11.51" rx="0.7"/><rect x="795.10" y="639.87" width="2.8" height="11.51" rx="0.7"/><rect x="797.98" y="598.62" width="2.8" height="6.51" rx="0.7"/><rect x="801.10" y="601.12" width="2.8" height="7.13" rx="0.7"/><rect x="803.07" y="608.07" width="3.1" height="3.1" rx="1"/><rect x="797.60" y="623.00" width="2.8" height="27.75" rx="0.7"/><rect x="799.10" y="628.00" width="2.8" height="22.75" rx="0.7"/><rect x="800.48" y="629.25" width="2.8" height="20.25" rx="0.7"/><rect x="801.95" y="625.95" width="3.1" height="3.1" rx="1"/><rect x="815.10" y="622.75" width="2.8" height="13.00" rx="0.7"/><rect x="835.10" y="630.25" width="2.8" height="9.88" rx="0.7"/><rect x="857.10" y="618.62" width="2.8" height="9.63" rx="0.7"/><rect x="859.07" y="636.57" width="3.1" height="3.1" rx="1"/><rect x="861.10" y="638.62" width="2.8" height="5.88" rx="0.7"/><rect x="863.98" y="603.62" width="2.8" height="20.26" rx="0.7"/><rect x="865.35" y="603.62" width="2.8" height="20.26" rx="0.7"/><rect x="868.83" y="602.83" width="3.1" height="3.1" rx="1"/><rect x="870.48" y="606.75" width="2.8" height="12.75" rx="0.7"/><rect x="871.98" y="606.12" width="2.8" height="27.76" rx="0.7"/><rect x="877.10" y="591.12" width="2.8" height="42.13" rx="0.7"/></g><line x1="125.5" y1="292.9" x2="289.2" y2="273.3" stroke="#ff0000" stroke-width="2.8" stroke-linecap="butt"/><line x1="287.4" y1="255.0" x2="419.0" y2="240.9" stroke="#ff0000" stroke-width="2.8" stroke-linecap="butt"/><line x1="416.9" y1="212.7" x2="900.5" y2="176.9" stroke="#ff0000" stroke-width="2.8" stroke-linecap="butt"/><line x1="125.5" y1="521.2" x2="289.6" y2="563.9" stroke="#ff0000" stroke-width="2.8" stroke-linecap="butt"/><line x1="287.4" y1="575.2" x2="419.2" y2="579.0" stroke="#ff0000" stroke-width="2.8" stroke-linecap="butt"/><line x1="416.9" y1="593.8" x2="900.5" y2="632.5" stroke="#ff0000" stroke-width="2.8" stroke-linecap="butt"/><rect x="125.5" y="102.5" width="775.0" height="315.0" fill="none" stroke="#000" stroke-width="1.1"/><rect x="125.5" y="442.5" width="775.0" height="315.0" fill="none" stroke="#000" stroke-width="1.1"/><path d="M162.5 417.5v4.9 M162.5 757.5v4.9 M254.5 417.5v4.9 M254.5 757.5v4.9 M346.5 417.5v4.9 M346.5 757.5v4.9 M439.5 417.5v4.9 M439.5 757.5v4.9 M531.5 417.5v4.9 M531.5 757.5v4.9 M623.5 417.5v4.9 M623.5 757.5v4.9 M715.5 417.5v4.9 M715.5 757.5v4.9 M808.5 417.5v4.9 M808.5 757.5v4.9 M900.5 417.5v4.9 M900.5 757.5v4.9 M125.5 367.5h-4.9 M125.5 310.5h-4.9 M125.5 252.5h-4.9 M125.5 195.5h-4.9 M125.5 138.5h-4.9 M125.5 718.5h-4.9 M125.5 661.5h-4.9 M125.5 604.5h-4.9 M125.5 546.5h-4.9 M125.5 489.5h-4.9" stroke="#000" stroke-width="1.1" fill="none"/><g style="font-family:'Liberation Sans',sans-serif;font-size:14.4px;fill:#000"><text x="88.9" y="373" textLength="27" lengthAdjust="spacingAndGlyphs">242</text><text x="88.9" y="315" textLength="27" lengthAdjust="spacingAndGlyphs">244</text><text x="88.9" y="258" textLength="27" lengthAdjust="spacingAndGlyphs">246</text><text x="88.9" y="201" textLength="27" lengthAdjust="spacingAndGlyphs">248</text><text x="88.9" y="144" textLength="27" lengthAdjust="spacingAndGlyphs">250</text><text x="88.9" y="724" textLength="27" lengthAdjust="spacingAndGlyphs">200</text><text x="88.9" y="666" textLength="27" lengthAdjust="spacingAndGlyphs">202</text><text x="88.9" y="609" textLength="27" lengthAdjust="spacingAndGlyphs">204</text><text x="88.9" y="552" textLength="27" lengthAdjust="spacingAndGlyphs">206</text><text x="88.9" y="495" textLength="27" lengthAdjust="spacingAndGlyphs">208</text><text x="138.0" y="777" textLength="48.8" lengthAdjust="spacingAndGlyphs">2000.0</text><text x="230.3" y="777" textLength="48.8" lengthAdjust="spacingAndGlyphs">2002.5</text><text x="322.5" y="777" textLength="48.8" lengthAdjust="spacingAndGlyphs">2005.0</text><text x="414.8" y="777" textLength="48.8" lengthAdjust="spacingAndGlyphs">2007.5</text><text x="507.1" y="777" textLength="48.8" lengthAdjust="spacingAndGlyphs">2010.0</text><text x="599.3" y="777" textLength="48.8" lengthAdjust="spacingAndGlyphs">2012.5</text><text x="691.6" y="777" textLength="48.8" lengthAdjust="spacingAndGlyphs">2015.0</text><text x="783.8" y="777" textLength="48.8" lengthAdjust="spacingAndGlyphs">2017.5</text><text x="876.1" y="777" textLength="48.8" lengthAdjust="spacingAndGlyphs">2020.0</text><text x="473" y="796" textLength="79.3" lengthAdjust="spacingAndGlyphs">Time (Year)</text><text transform="translate(78.8,288.3) rotate(-90)" textLength="55.6" lengthAdjust="spacingAndGlyphs">ACENT I</text><text transform="translate(78.8,628.5) rotate(-90)" textLength="55.6" lengthAdjust="spacingAndGlyphs">ACNET J</text><text x="139.7" y="133" textLength="207.5" lengthAdjust="spacingAndGlyphs" xml:space="preserve">Slope (2003.4 &lt; year):  0.156</text><text x="139.7" y="164.8" textLength="277" lengthAdjust="spacingAndGlyphs" xml:space="preserve">Slope (2003.4 &lt;  year &lt; 2006.9): 0.139</text><text x="139.7" y="196.3" textLength="207.5" lengthAdjust="spacingAndGlyphs" xml:space="preserve">Slope (year &gt; 2006.9):  0.096</text><text x="139.7" y="631" textLength="212.5" lengthAdjust="spacingAndGlyphs" xml:space="preserve">Slope (2003.4 &lt; year):  -0.340</text><text x="139.7" y="662.5" textLength="282" lengthAdjust="spacingAndGlyphs" xml:space="preserve">Slope (2003.4 &lt;  year &lt; 2006.9): -0.037</text><text x="139.7" y="694" textLength="212.5" lengthAdjust="spacingAndGlyphs" xml:space="preserve">Slope (year &gt; 2006.9):  -0.104</text></g></svg></body></html>
